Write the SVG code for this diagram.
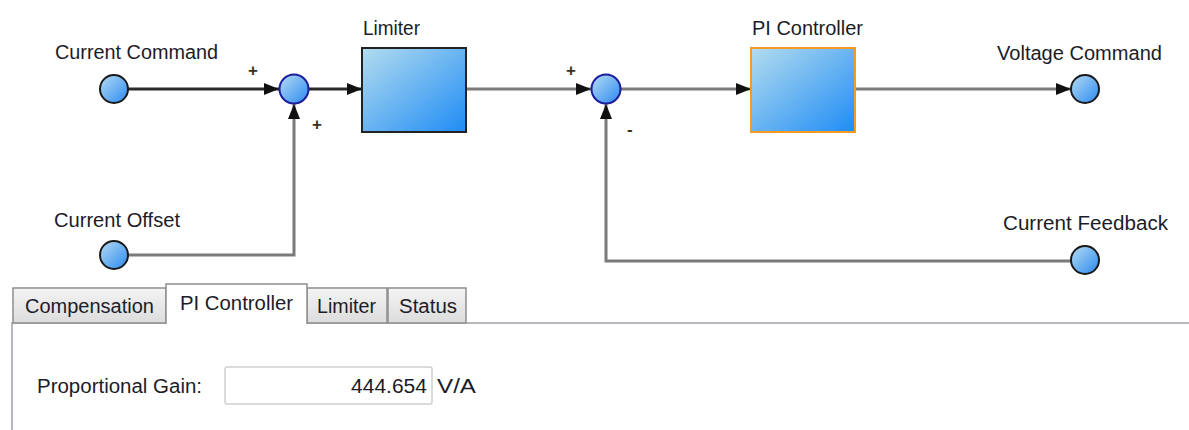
<svg xmlns="http://www.w3.org/2000/svg" width="1189" height="430" viewBox="0 0 1189 430">
<defs>
<linearGradient id="gBox" x1="0" y1="0" x2="1" y2="1">
<stop offset="0" stop-color="#b3dcef"/>
<stop offset="1" stop-color="#1f8cf5"/>
</linearGradient>
<linearGradient id="gDot" x1="0" y1="0" x2="1" y2="1">
<stop offset="0" stop-color="#b6dcf4"/>
<stop offset="1" stop-color="#2a8af0"/>
</linearGradient>
<linearGradient id="gTab" x1="0" y1="0" x2="0" y2="1">
<stop offset="0" stop-color="#f4f4f4"/>
<stop offset="1" stop-color="#dcdcdc"/>
</linearGradient>
<marker id="arr" markerUnits="userSpaceOnUse" markerWidth="16" markerHeight="12" refX="15" refY="6" orient="auto">
<path d="M0,0 L15,6 L0,12 Z" fill="#111"/>
</marker>
<style>
text{font-family:"Liberation Sans",Arial,sans-serif;fill:#1c1c28}
.lbl{font-size:20px}
.sign{font-size:17px;font-weight:bold;fill:#3a3020}
.dark{fill:none;stroke:#2a2a2a;stroke-width:3}
.gray{fill:none;stroke:#7a7a7a;stroke-width:3}
.io{fill:url(#gDot);stroke:#1a1a1a;stroke-width:2}
.sum{fill:url(#gDot);stroke:#1c1c9c;stroke-width:2}
.tab{fill:url(#gTab);stroke:#8e8e8e;stroke-width:1.5}
.tabt{font-size:20px}
</style>
</defs>
<rect width="1189" height="430" fill="#ffffff"/>

<g id="connectors">
<path class="dark" d="M128,89 L279,89" marker-end="url(#arr)"/>
<path class="dark" d="M309,89 L362,89" marker-end="url(#arr)"/>
<path class="gray" d="M128,255 L294,255 L294,104" marker-end="url(#arr)"/>
<path class="gray" d="M466,89 L591,89" marker-end="url(#arr)"/>
<path class="gray" d="M620,89 L751,89" marker-end="url(#arr)"/>
<path class="gray" d="M855,89 L1071,89" marker-end="url(#arr)"/>
<path class="gray" d="M1071,261 L606,261 L606,104" marker-end="url(#arr)"/>
</g>

<g id="current-command">
<text class="lbl" x="55" y="59" textLength="163" lengthAdjust="spacingAndGlyphs">Current Command</text>
<circle class="io" cx="114" cy="89" r="14"/>
</g>
<g id="current-offset">
<text class="lbl" x="54" y="227" textLength="126" lengthAdjust="spacingAndGlyphs">Current Offset</text>
<circle class="io" cx="114" cy="255" r="14"/>
</g>
<g id="sum1">
<circle class="sum" cx="294" cy="89" r="14.5"/>
<text class="sign" x="248" y="76">+</text>
<text class="sign" x="312" y="130">+</text>
</g>
<g id="limiter">
<text class="lbl" x="363" y="35" textLength="57" lengthAdjust="spacingAndGlyphs">Limiter</text>
<rect x="362" y="48" width="104" height="84" fill="url(#gBox)" stroke="#222" stroke-width="2"/>
</g>
<g id="sum2">
<circle class="sum" cx="606" cy="89" r="14.5"/>
<text class="sign" x="566" y="76">+</text>
<text class="sign" x="627" y="135">-</text>
</g>
<g id="pi-controller">
<text class="lbl" x="752" y="35" textLength="111" lengthAdjust="spacingAndGlyphs">PI Controller</text>
<rect x="751" y="48" width="104" height="84" fill="url(#gBox)" stroke="#f59a23" stroke-width="2"/>
</g>
<g id="voltage-command">
<text class="lbl" x="997" y="60" textLength="165" lengthAdjust="spacingAndGlyphs">Voltage Command</text>
<circle class="io" cx="1085" cy="89" r="14"/>
</g>
<g id="current-feedback">
<text class="lbl" x="1003" y="230" textLength="165" lengthAdjust="spacingAndGlyphs">Current Feedback</text>
<circle class="io" cx="1085" cy="260" r="14"/>
</g>

<g id="tabs">
<path d="M12,430 L12,323 L1189,323" fill="none" stroke="#a0a0a8" stroke-width="1.5"/>
<rect class="tab" x="13" y="288" width="153" height="35"/>
<text class="tabt" x="25" y="313" textLength="129" lengthAdjust="spacingAndGlyphs">Compensation</text>
<rect class="tab" x="307" y="288" width="80" height="35"/>
<text class="tabt" x="317" y="313" textLength="59" lengthAdjust="spacingAndGlyphs">Limiter</text>
<rect class="tab" x="388" y="288" width="78" height="35"/>
<text class="tabt" x="399" y="313" textLength="58" lengthAdjust="spacingAndGlyphs">Status</text>
<path d="M166,324 L166,284 L307,284 L307,324" fill="#ffffff" stroke="#8e8e8e" stroke-width="1.5"/>
<rect x="167" y="322" width="139" height="3" fill="#ffffff"/>
<text class="tabt" x="180" y="310" textLength="113" lengthAdjust="spacingAndGlyphs">PI Controller</text>
</g>

<g id="gain-field">
<text class="tabt" x="37" y="393" textLength="165" lengthAdjust="spacingAndGlyphs">Proportional Gain:</text>
<rect x="225" y="367" width="207" height="37" rx="2" fill="#ffffff" stroke="#cfcfcf" stroke-width="1.5"/>
<text class="tabt" x="351" y="393" textLength="76" lengthAdjust="spacingAndGlyphs">444.654</text>
<text class="tabt" x="437" y="393" textLength="39" lengthAdjust="spacingAndGlyphs">V/A</text>
</g>
</svg>
